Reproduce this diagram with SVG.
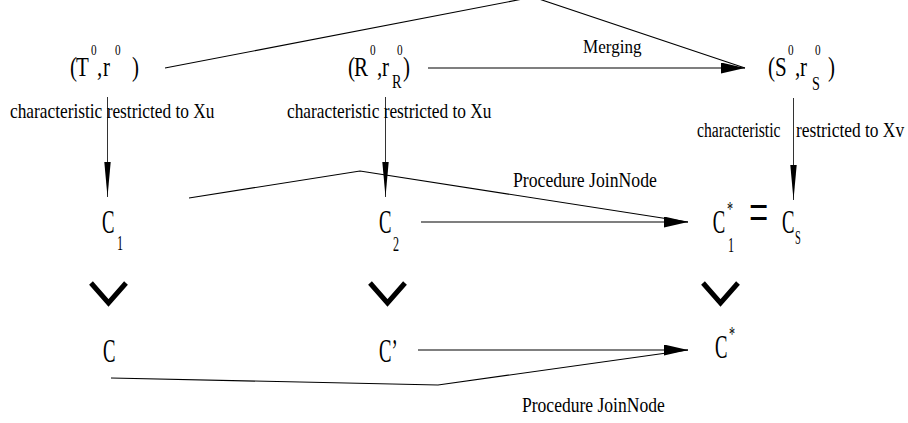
<svg xmlns="http://www.w3.org/2000/svg" width="908" height="423" viewBox="0 0 908 423" font-family="'Liberation Serif', 'DejaVu Serif', serif">
<defs>
<style>
text{font-family:'Liberation Serif','DejaVu Serif',serif;fill:#000}
.lbl{font-size:20px}
.big{font-size:28px}
.cc{font-size:34px}
.sup{font-size:15px}
.sub{font-size:19px}
.cs{font-size:22px}
.ln{fill:none;stroke:#000;stroke-width:1.1}
.vl{fill:none;stroke:#333;stroke-width:1}
.vee{fill:none;stroke:#000;stroke-width:5;stroke-linejoin:miter;stroke-miterlimit:10}
</style>
<marker id="ah" markerUnits="userSpaceOnUse" markerWidth="25" markerHeight="11" refX="24" refY="5.5" orient="auto">
<path d="M0,0 L24,5.5 L0,11 z" fill="#000"/>
</marker>
<marker id="av" markerUnits="userSpaceOnUse" markerWidth="36" markerHeight="7" refX="35" refY="3.2" orient="auto">
<path d="M0,0 L35,3.2 L0,6.4 z" fill="#000"/>
</marker>
</defs>
<rect width="908" height="423" fill="#fff"/>

<g id="connectors">
<polyline class="ln" points="165,68 533,-3 745,68"/>
<line class="ln" x1="428" y1="68" x2="745" y2="68" marker-end="url(#ah)"/>
<line class="vl" x1="107.5" y1="97" x2="107.5" y2="197" marker-end="url(#av)"/>
<line class="vl" x1="385.5" y1="97" x2="385.5" y2="197" marker-end="url(#av)"/>
<line class="vl" x1="793.5" y1="98" x2="793.5" y2="200" marker-end="url(#av)"/>
<polyline class="ln" points="189,198 360,171 688,222"/>
<line class="ln" x1="421" y1="222" x2="688" y2="222" marker-end="url(#ah)"/>
<line class="ln" x1="418" y1="350" x2="688" y2="350" marker-end="url(#ah)"/>
<polyline class="ln" points="111,378 438,385 688,350"/>
<polyline class="vee" points="91,283 108.5,303 126,283"/>
<polyline class="vee" points="370,283 387.5,303 405,283"/>
<polyline class="vee" points="703,283 720.5,303 738,283"/>
<text transform="scale(0.95,1)" x="613.7" y="53" style="font-size:18px">Merging</text>
<text class="lbl" transform="scale(0.867,1)" x="11.5" y="118">characteristic restricted to Xu</text>
<text class="lbl" transform="scale(0.867,1)" x="331" y="118">characteristic restricted to Xu</text>
<text class="lbl" transform="scale(0.784,1)" x="889" y="137">characteristic</text>
<text class="lbl" transform="scale(0.87,1)" x="914.9" y="137">restricted to Xv</text>
<text transform="scale(0.843,1)" x="608.5" y="187" style="font-size:21px">Procedure JoinNode</text>
<text transform="scale(0.836,1)" x="624.4" y="412" style="font-size:21px">Procedure JoinNode</text>
</g>

<g id="node-T0">
<text transform="scale(0.75,1)" class="big"><tspan x="93.3" y="76">(</tspan><tspan x="101.3" y="76">T</tspan><tspan class="sup" x="121.3" y="55">0</tspan><tspan x="129.3" y="76">,</tspan><tspan x="137.3" y="76">r</tspan><tspan class="sup" x="153.3" y="55">0</tspan><tspan x="176" y="76">)</tspan></text>
</g>

<g id="node-R0">
<text transform="scale(0.75,1)" class="big"><tspan x="464" y="76">(</tspan><tspan x="472" y="76">R</tspan><tspan class="sup" x="493.3" y="55">0</tspan><tspan x="502.7" y="76">,</tspan><tspan x="509.3" y="76">r</tspan><tspan class="sub" x="522.7" y="88">R</tspan><tspan class="sup" x="529.3" y="55">0</tspan><tspan x="537.3" y="76">)</tspan></text>
</g>

<g id="node-S0">
<text transform="scale(0.75,1)" class="big"><tspan x="1024" y="76">(</tspan><tspan x="1033.3" y="76">S</tspan><tspan class="sup" x="1050.7" y="55">0</tspan><tspan x="1060" y="76">,</tspan><tspan x="1066.7" y="76">r</tspan><tspan class="sub" x="1082.7" y="90">S</tspan><tspan class="sup" x="1086.7" y="55">0</tspan><tspan x="1104" y="76">)</tspan></text>
</g>

<g id="node-C1">
<text transform="scale(0.55,1)" class="cc"><tspan x="185.5" y="233">C</tspan><tspan class="cs" x="212.7" y="250">1</tspan></text>
</g>

<g id="node-C2">
<text transform="scale(0.55,1)" class="cc"><tspan x="689" y="233">C</tspan><tspan class="cs" x="714.5" y="251">2</tspan></text>
</g>

<g id="node-C1star-Cs">
<text transform="scale(0.55,1)" class="cc"><tspan x="1296" y="233">C</tspan><tspan class="cs" x="1322" y="216">*</tspan><tspan class="cs" x="1323.6" y="252">1</tspan><tspan x="1362" y="233" style="font-size:62px">=</tspan><tspan x="1421.8" y="233">C</tspan><tspan class="sub" x="1445.5" y="244">S</tspan></text>
</g>

<g id="node-C">
<text transform="scale(0.55,1)" class="cc"><tspan x="187.3" y="362">C</tspan></text>
</g>

<g id="node-Cprime">
<text transform="scale(0.55,1)" class="cc"><tspan x="689" y="362">C’</tspan></text>
</g>

<g id="node-Cstar">
<text transform="scale(0.55,1)" class="cc"><tspan x="1300" y="358">C</tspan><tspan class="cs" x="1325.5" y="341">*</tspan></text>
</g>
</svg>
